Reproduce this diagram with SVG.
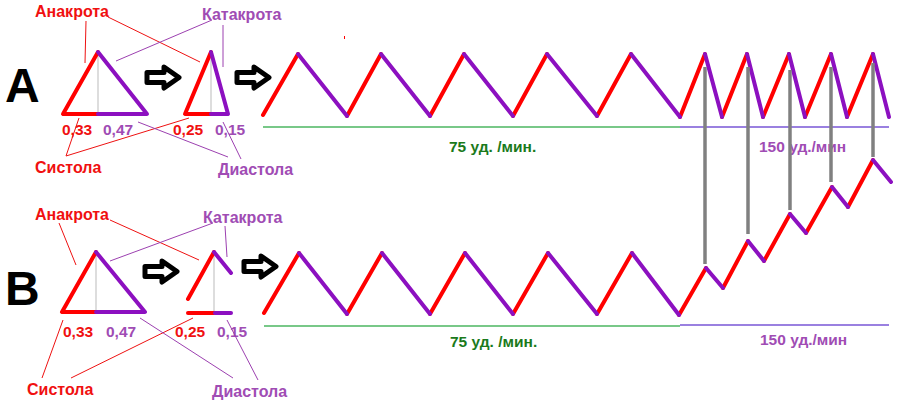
<svg xmlns="http://www.w3.org/2000/svg" width="904" height="408" viewBox="0 0 904 408">
<style>
text{font-family:"Liberation Sans",Arial,sans-serif;font-weight:bold}
.tr{fill:#f01010;font-size:16px}
.tp{fill:#a04cb4;font-size:16px}
.nr{fill:#f01010;font-size:15.5px}
.np{fill:#a04cb4;font-size:15.5px}
.big{fill:#000;font-size:48px}
.rate-g{fill:#1b7a1b;font-size:15.5px}
.rate-p{fill:#a04cb4;font-size:15.5px}
.r{stroke:#ff0000;stroke-width:4;fill:none;stroke-linecap:round;stroke-linejoin:round}
.p{stroke:#8c10c0;stroke-width:4;fill:none;stroke-linecap:round;stroke-linejoin:round}
.mid{stroke:#dddddd;stroke-width:2}
.lr{stroke:#ee1111;stroke-width:1;fill:none}
.lp{stroke:#9c40b0;stroke-width:1;fill:none}
.gray{stroke:#808080;stroke-width:3.5;fill:none}
.base-g{stroke:#78c888;stroke-width:2}
.base-p{stroke:#9a80e0;stroke-width:2}
.arr{fill:#fff;stroke:#000;stroke-width:5;stroke-linejoin:round}
</style>
<defs>
<path id="arrow" class="arr" d="M0,5.5 L17,5.5 L17,0 L32,10.5 L17,21 L17,15.5 L0,15.5 Z"/>
</defs>
<rect width="904" height="408" fill="#fff"/>

<!-- Panel A -->
<g id="label-A"><text class="big" x="5" y="102">A</text></g>
<g id="triA1">
<line class="mid" x1="98" y1="54" x2="98" y2="113"/>
<path class="r" d="M98,52 L63,114 L98,114"/>
<path class="p" d="M98,52 L147,114 L98,114"/>
</g>
<g id="triA2">
<line class="mid" x1="211" y1="54" x2="211" y2="113"/>
<path class="r" d="M211,52 L185,114 L211,114"/>
<path class="p" d="M211,52 L228,114 L211,114"/>
</g>
<g id="arrowA1"><use href="#arrow" transform="translate(147,67)"/></g>
<g id="arrowA2"><use href="#arrow" transform="translate(237,67)"/></g>

<g id="textsA">
<text class="tr" x="35" y="17">Анакрота</text>
<text class="tp" x="202" y="20">Катакрота</text>
<text class="nr" x="62" y="135">0,33</text>
<text class="np" x="103" y="135">0,47</text>
<text class="nr" x="173" y="135">0,25</text>
<text class="np" x="215" y="135">0,15</text>
<text class="tr" x="35" y="173">Систола</text>
<text class="tp" x="218" y="175">Диастола</text>
<text class="rate-g" x="449" y="152">75 уд. /мин.</text>
<text class="rate-p" x="759" y="152">150 уд./мин</text>
</g>
<rect x="344" y="36" width="1" height="3" fill="#ff0000"/>

<!-- Panel B -->
<g id="label-B"><text class="big" x="5" y="305">B</text></g>
<g id="triB1">
<line class="mid" x1="96" y1="254" x2="96" y2="311"/>
<path class="r" d="M96,252 L62,312 L96,312"/>
<path class="p" d="M96,252 L145,312 L96,312"/>
</g>
<g id="triB2">
<line class="mid" x1="214" y1="254" x2="214" y2="312"/>
<path class="r" d="M188,299 L214,252"/>
<path class="p" d="M214,252 L231,273"/>
<path class="r" d="M188,313 L214,313"/>
<path class="p" d="M215,313 L231,313"/>
</g>
<g id="arrowB1"><use href="#arrow" transform="translate(145,261)"/></g>
<g id="arrowB2"><use href="#arrow" transform="translate(244,256)"/></g>

<g id="textsB">
<text class="tr" x="35" y="220">Анакрота</text>
<text class="tp" x="203" y="223">Катакрота</text>
<text class="nr" x="63" y="337">0,33</text>
<text class="np" x="106" y="337">0,47</text>
<text class="nr" x="175" y="337">0,25</text>
<text class="np" x="217" y="337">0,15</text>
<text class="tr" x="27" y="395">Систола</text>
<text class="tp" x="212" y="397">Диастола</text>
<text class="rate-g" x="450" y="347">75 уд. /мин.</text>
<text class="rate-p" x="760" y="345">150 уд./мин</text>
</g>

<!-- connectors / leader lines and traces -->
<g id="connectors">
<path class="lr" d="M86,21 L85,63"/>
<path class="lr" d="M108,17 L200,62"/>
<path class="lp" d="M212,20 L116,61"/>
<path class="lp" d="M223,25 L223,67"/>
<path class="lr" d="M66,156 L79,118"/>
<path class="lr" d="M66,156 L189,118"/>
<path class="lp" d="M138,122 L228,157"/>
<path class="lp" d="M223,122 L241,159"/>
<path class="lr" d="M59,223 L76,265"/>
<path class="lr" d="M110,220 L199,260"/>
<path class="lp" d="M213,223 L110,261"/>
<path class="lp" d="M225,226 L227,257"/>
<path class="lr" d="M42,378 L63,320"/>
<path class="lr" d="M71,378 L193,318"/>
<path class="lp" d="M140,318 L233,378"/>
<path class="lp" d="M227,320 L258,380"/>

<line class="base-g" x1="263" y1="127" x2="680" y2="127"/>
<line class="base-p" x1="680" y1="127" x2="889" y2="127"/>
<line class="base-g" x1="264" y1="326" x2="680" y2="326"/>
<line class="base-p" x1="680" y1="325" x2="889" y2="325"/>

<path class="r" d="M263,115 L298,54 M347,116 L381,54 M430,116 L464,54 M513,116 L547,54 M597,116 L631,54 M680,117 L705,54 M722,117 L747,54 M763,117 L789,54 M805,117 L831,54 M847,117 L873,54"/>
<path class="p" d="M298,54 L347,116 M381,54 L430,116 M464,54 L513,116 M547,54 L597,116 M631,54 L680,117 M705,54 L722,117 M747,54 L763,117 M789,54 L805,117 M831,54 L847,117 M873,54 L889,117"/>

<path class="r" d="M264,313 L299,253 M347,314 L382,253 M430,314 L465,253 M513,314 L548,253 M597,314 L632,253 M679,315 L706,268 M723,288 L748,241 M764,261 L790,214 M806,233 L832,187 M848,207 L873,160"/>
<path class="p" d="M299,253 L347,314 M382,253 L430,314 M465,253 L513,314 M548,253 L597,314 M632,253 L679,315 M706,268 L723,288 M748,241 L764,261 M790,214 L806,233 M832,187 L848,207 M873,160 L891,182"/>

<line class="gray" x1="705" y1="67" x2="705" y2="264"/>
<line class="gray" x1="748" y1="67" x2="748" y2="234"/>
<line class="gray" x1="790" y1="70" x2="790" y2="210"/>
<line class="gray" x1="831" y1="67" x2="831" y2="182"/>
<line class="gray" x1="873" y1="63" x2="873" y2="157"/>
</g>
</svg>
